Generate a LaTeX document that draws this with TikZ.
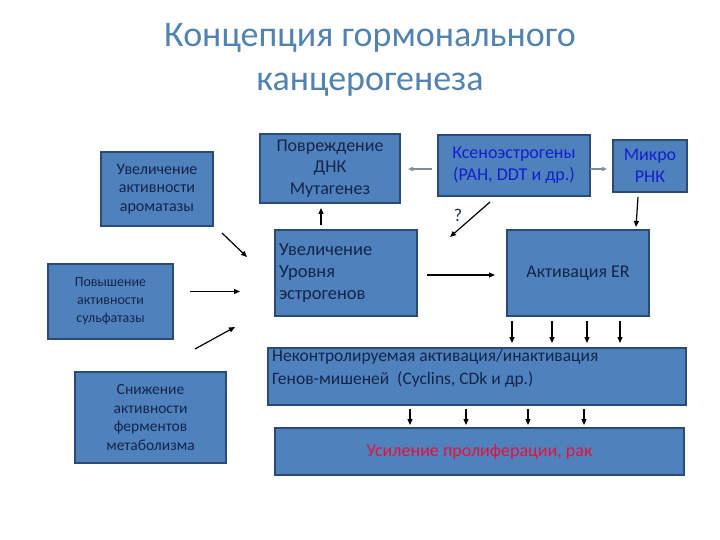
\documentclass[tikz,border=0pt]{standalone}
\usepackage{fontspec}
\setmainfont{Carlito}
\usetikzlibrary{arrows.meta,calc}
\definecolor{cFill}{HTML}{4F81BD}
\definecolor{cEdge}{HTML}{2B4A75}
\definecolor{cTitle}{HTML}{5282B0}
\definecolor{cInk}{HTML}{14254A}
\definecolor{cXeno}{HTML}{1020D0}
\definecolor{cRed}{HTML}{E8103C}
\definecolor{cGrey}{HTML}{7F8C99}

\begin{document}
\begin{tikzpicture}[x=1pt,y=-1pt,
  box/.style={draw=cEdge,fill=cFill,line width=1.2pt,inner sep=4pt,outer sep=0pt,align=center,text=cInk},
  small/.style={font=\fontsize{16}{18.5}\selectfont},
  big/.style={font=\fontsize{18}{22}\selectfont},
  arr/.style={-{Triangle[length=6pt,width=5pt]},line width=1.2pt,black},
  garr/.style={-{Triangle[length=5pt,width=4pt]},line width=1.4pt,cGrey}]
  \useasboundingbox (0,0) rectangle (720,540);
  % title
  \node[font=\fontsize{36}{44}\selectfont,text=cTitle,align=center] (title) at (370,60) {Концепция гормонального\\канцерогенеза};
  % left column
  \node[box,small,minimum width=112,minimum height=74] (A) at (157,189) {Увеличение\\активности\\ароматазы};
  \node[box,font=\fontsize{14}{18}\selectfont,minimum width=125,minimum height=75] (B) at (110.5,301.5) {Повышение\\активности\\сульфатазы};
  \node[box,font=\fontsize{15.5}{18.5}\selectfont,minimum width=151,minimum height=91] (C) at (150.5,417.5) {Снижение\\активности\\ферментов\\метаболизма};
  % middle and right
  \node[box,font=\fontsize{18}{21.5}\selectfont,minimum width=140,minimum height=69] (D) at (330,168.5) {Повреждение\\ДНК\\Мутагенез};
  \node[box,font=\fontsize{18.5}{22}\selectfont,text width=134,align=left,minimum height=86] (E) at (346,273) {Увеличение\\Уровня\\эстрогенов};
  \node[box,big,minimum width=142,minimum height=86] (F) at (578,273) {Активация ER};
  \node[box,big,text=cXeno,minimum width=152,minimum height=61] (G) at (514,165.5) {\raisebox{-3pt}{Ксеноэстрогены}\\\raisebox{-3pt}{(PAH, DDT и др.)}};
  \node[box,big,text=cXeno,minimum width=74,minimum height=52] (H) at (650,166) {Микро\\РНК};
  \node[box,minimum width=418,minimum height=57] (I) at (477,376.5) {};
  \node[font=\fontsize{17.5}{23}\selectfont,text=cInk,align=left,anchor=north west,inner sep=0pt] (Itxt) at ([xshift=4pt,yshift=-1pt]I.north west) {Неконтролируемая активация/инактивация\\Генов-мишеней\ \ (Cyclins, CDk и др.)};
  \node[box,big,text=cRed,minimum width=409,minimum height=47] (J) at (479.5,451.5) {Усиление пролиферации, рак};
  \node[big,text=cInk] (q) at (458,215) {?};
  % connectors
  \coordinate (cTail) at (195,349);
  \coordinate (cHead) at (235,327);
  \draw[arr] ($(A.south east)+(9,7)$) -- ++(25,24);
  \draw[arr] ($(B.east)+(17,-10)$) -- ++(50,0);
  \draw[arr] (cTail) -- (cHead);
  \draw[arr] ($(E.east)+(10,2)$) -- ($(F.west)+(-12,2)$);
  \draw[arr] ($(E.north)+(-25,-5)$) -- ($(D.south)+(-9,5)$);
  \draw[arr] ($(G.south west)+(52,6)$) -- ++(-40,35);
  \draw[arr] ($(H.south)+(-12,5)$) -- ($(F.north)+(58,-3)$);
  \draw[garr] ($(G.west)+(-6,3.5)$) -- ($(D.east)+(8,0.5)$);
  \draw[garr] ($(G.east)+(0,3.5)$) -- ($(H.west)+(-6,3)$);
  \foreach \x in {512,552,587,620}
    \draw[arr] ([yshift=-5pt]\x,0 |- F.south) -- ([yshift=5pt]\x,0 |- I.north);
  \foreach \x in {410,466,528,584}
    \draw[arr] ([yshift=-4pt]\x,0 |- I.south) -- ([yshift=3pt]\x,0 |- J.north);
\end{tikzpicture}
\end{document}
